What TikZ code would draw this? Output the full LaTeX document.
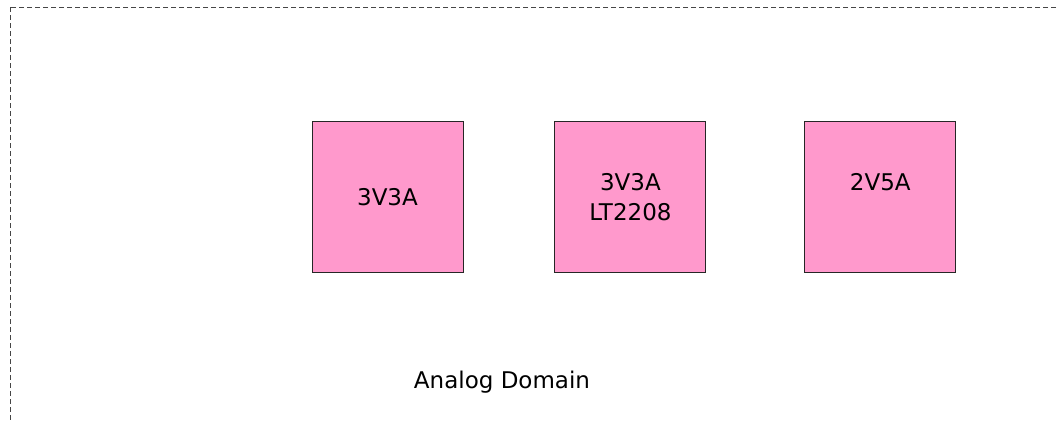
\documentclass[tikz,border=0pt]{standalone}
\usepackage{fontspec}
\setmainfont{DejaVu Sans}
\definecolor{railpink}{RGB}{255, 153, 204}
\definecolor{edgegray}{RGB}{70, 70, 70}
\usetikzlibrary{positioning}

\begin{document}
\begin{tikzpicture}[x=1pt, y=-1pt,
  railbox/.style={draw=black!85, fill=railpink, line width=0.9pt, minimum width=151pt, minimum height=151pt, inner sep=0pt, align=center, font=\fontsize{23}{30}\selectfont}]
  \useasboundingbox (0,0) rectangle (1058,421);

  % Domain outline, cut off at right and bottom
  \begin{scope}
    \clip (0,0) rectangle (1058,421);
    \draw[edgegray, dash pattern=on 5pt off 3pt, line width=0.9pt] (10,7) rectangle (1090,450);
  \end{scope}

  % Supply rails
  \node[railbox] (rail1) at (387.5,197) {3V3A};
  \node[railbox, right=91pt of rail1] (rail2) {3V3A\\LT2208};
  \node[railbox, right=98pt of rail2] (rail3) {2V5A\\\phantom{LT2208}};

  % Domain name
  \node[font=\fontsize{23}{28}\selectfont] (domainname) at (502,382) {Analog Domain};
\end{tikzpicture}
\end{document}
